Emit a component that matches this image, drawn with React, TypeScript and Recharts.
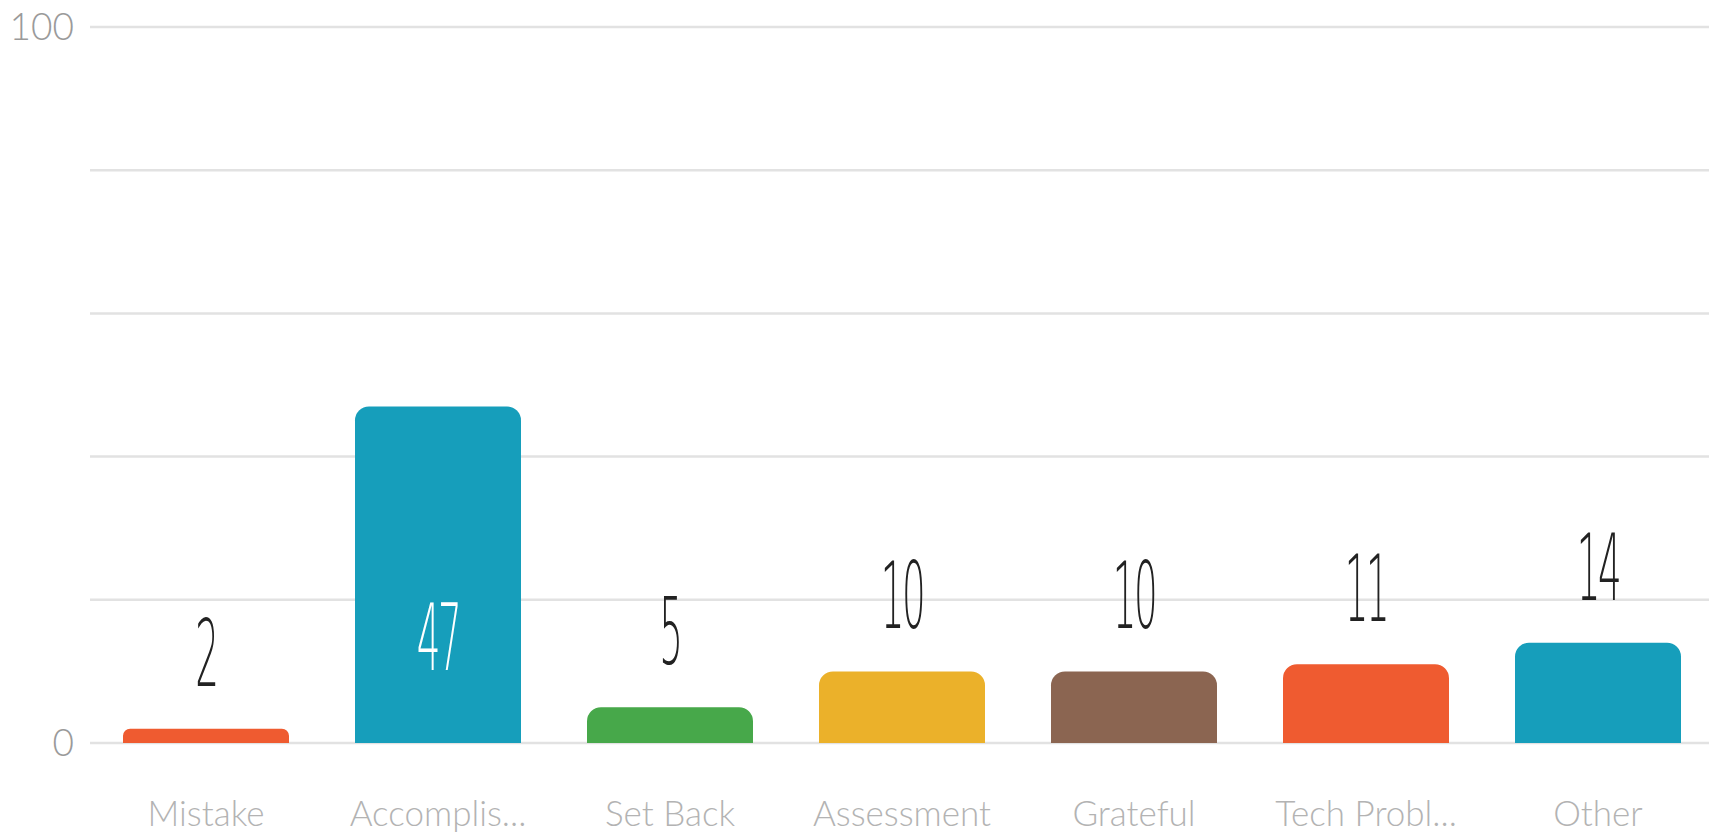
import { useLayoutEffect } from 'react';
import { BarChart, Bar, XAxis, YAxis, CartesianGrid, Cell, LabelList } from 'recharts';

const categories = ['Mistake', 'Accomplis...', 'Set Back', 'Assessment', 'Grateful', 'Tech Probl...', 'Other'];
const counts = [2, 47, 5, 10, 10, 11, 14];
const barColors = ['#EF5B30', '#169EBB', '#47A84A', '#EBB12A', '#8B6551', '#EF5B30', '#169EBB'];
const yTicks = [0, 20, 40, 60, 80, 100];

const rows = categories.map((name, i) => ({ name, count: counts[i] }));

const ValueLabel = (props: any) => {
    const { x, y, width, height, value } = props;
    const cx = x + width / 2;
    const inside = value > 30;
    const baseline = inside ? y + height - 73 : y - 43;
    return (
        <text
            transform={`translate(${cx},${baseline}) scale(0.4,1)`}
            textAnchor="middle"
            fontFamily="DejaVu Sans"
            fontWeight={200}
            fontSize={93}
            letterSpacing={-6}
            fill={inside ? '#ffffff' : '#222222'}
        >
            {value}
        </text>
    );
};

export default function App() {
    useLayoutEffect(() => {
        document.documentElement.style.overflow = 'hidden';
        document.body.style.margin = '0';
    }, []);

    return (
        <div style={{ width: 1709, height: 835, overflow: 'hidden', background: '#fff' }}>
            <BarChart
                width={1709}
                height={835}
                data={rows}
                margin={{ top: 27, right: -5, bottom: 0, left: 0 }}
                barSize={166}
            >
                <CartesianGrid vertical={false} stroke="#e2e2e2" strokeWidth={2.5} />
                <XAxis
                    dataKey="name"
                    axisLine={false}
                    tickLine={false}
                    tickSize={0}
                    tickMargin={58}
                    height={92}
                    interval={0}
                    tick={{ fill: '#b3b3b3', fontSize: 35, fontFamily: 'Lato', fontWeight: 300 }}
                />
                <YAxis
                    domain={[0, 100]}
                    ticks={yTicks}
                    width={90}
                    axisLine={false}
                    tickLine={false}
                    tickSize={0}
                    tickMargin={16}
                    tickFormatter={(v: number) => (v === 0 || v === 100 ? String(v) : '')}
                    tick={{ fill: '#9a9a9a', fontSize: 37, fontFamily: 'Lato', fontWeight: 300 }}
                />
                <Bar dataKey="count" radius={[14, 14, 0, 0]} isAnimationActive={false}>
                    {rows.map((r, i) => (
                        <Cell key={r.name} fill={barColors[i]} />
                    ))}
                    <LabelList dataKey="count" content={ValueLabel} />
                </Bar>
            </BarChart>
        </div>
    );
}
